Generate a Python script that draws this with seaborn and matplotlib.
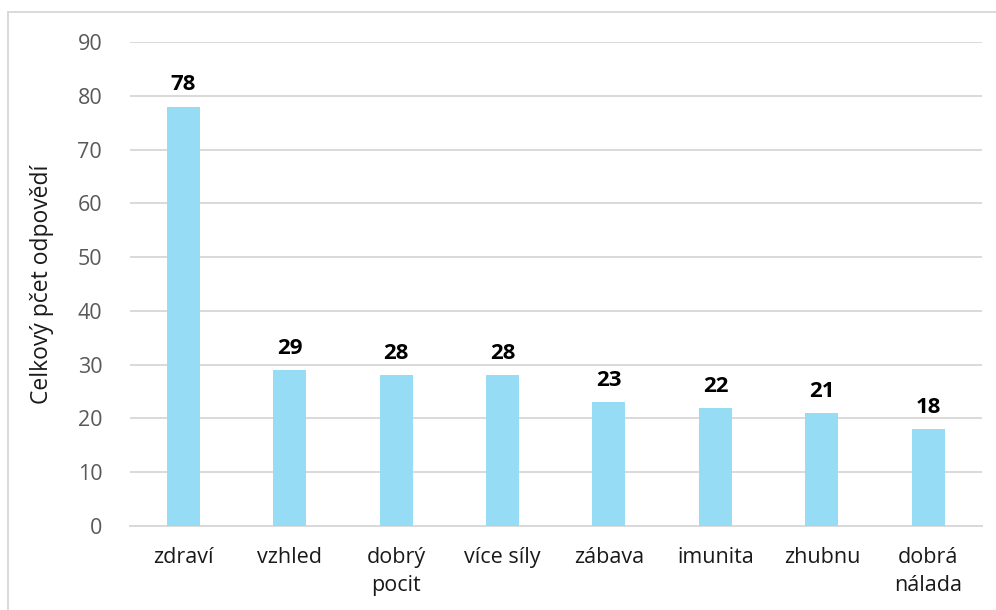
import matplotlib
matplotlib.use("Agg")
import matplotlib.pyplot as plt
import pandas as pd
import seaborn as sns
from matplotlib.patches import Rectangle

categories = ["zdraví", "vzhled", "dobrý\npocit", "více síly", "zábava", "imunita", "zhubnu", "dobrá\nnálada"]
counts = [78, 29, 28, 28, 23, 22, 21, 18]
y_ticks = [0, 10, 20, 30, 40, 50, 60, 70, 80, 90]

df = pd.DataFrame({"kategorie": categories, "pocet": counts})

sns.set_style("white")
plt.rcParams["font.family"] = ["Open Sans", "DejaVu Sans"]

fig = plt.figure(figsize=(9.96, 6.10), dpi=100)
ax = fig.add_axes([0.1305, 0.1377, 0.855, 0.7934])

sns.barplot(data=df, x="kategorie", y="pocet", color="#97dcf5", width=0.31,
            saturation=1, linewidth=0, ax=ax, zorder=3)

ax.set_ylim(0, 90)
ax.set_yticks(y_ticks)
ax.grid(axis="y", color="#d9d9d9", linewidth=1.4, zorder=0)
ax.set_axisbelow(True)
for side in ["top", "right", "left"]:
    ax.spines[side].set_visible(False)
ax.spines["bottom"].set_color("#d9d9d9")
ax.spines["bottom"].set_linewidth(1.4)

ax.tick_params(axis="y", labelsize=15.5, labelcolor="#595959", length=0, pad=20)
ax.tick_params(axis="x", labelsize=15.5, labelcolor="#1a1a1a", length=0, pad=15)
for lab in ax.get_xticklabels():
    lab.set_linespacing(1.45)
ax.set_xlabel("")
ax.set_ylabel("Celkový pčet odpovědí", fontsize=16.5, color="#1a1a1a", labelpad=17)

for container in ax.containers:
    ax.bar_label(container, fontsize=16, fontweight="bold", padding=8, color="black")

fig.patches.append(Rectangle((8 / 996, -0.1), 1.2, 1 - 12 / 610 + 0.1,
                             transform=fig.transFigure, fill=False,
                             edgecolor="#d9d9d9", linewidth=1.4))

fig.savefig("out.png", dpi=100)
